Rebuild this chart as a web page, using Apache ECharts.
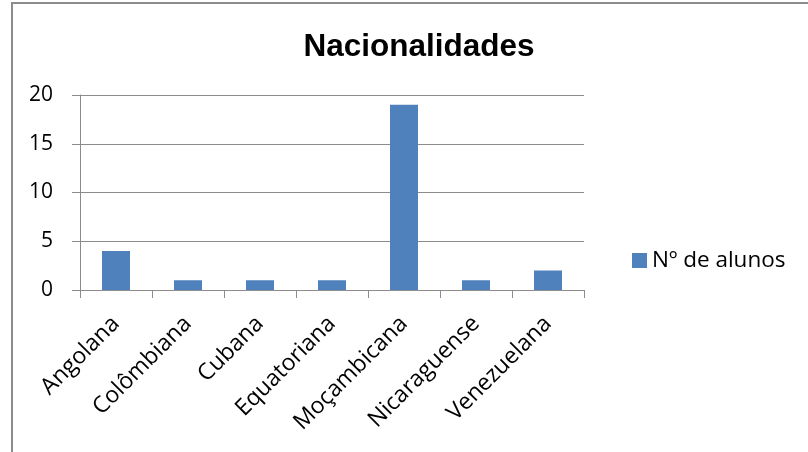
<!DOCTYPE html>
<html>
<head>
<meta charset="utf-8">
<script src="https://cdn.jsdelivr.net/npm/echarts@6/dist/echarts.min.js"></script>
<style>
  html, body { margin: 0; padding: 0; background: #fff; }
  #frame { position: absolute; left: 11px; top: 2px; width: 820px; height: 470px; border: 2px solid #8c8c8c; box-sizing: border-box; }
  #chart { position: absolute; left: 0; top: 0; width: 808px; height: 452px; }
</style>
</head>
<body>
<div id="frame"></div>
<div id="chart"></div>
<script>
var categories = ['Angolana', 'Colômbiana', 'Cubana', 'Equatoriana', 'Moçambicana', 'Nicaraguense', 'Venezuelana'];
var alunos = [4, 1, 1, 1, 19, 1, 2];
var yTicks = [0, 5, 10, 15, 20];
var seriesName = 'Nº de alunos';

var chart = echarts.init(document.getElementById('chart'));
var option = {
    animation: false,
    title: {
        text: 'Nacionalidades',
        left: 414,
        top: 26,
        textAlign: 'center',
        textStyle: {
            fontFamily: 'Liberation Sans',
            fontWeight: 'bold',
            fontSize: 31.5,
            color: '#000'
        }
    },
    legend: {
        data: [seriesName],
        left: 627,
        top: 244,
        itemWidth: 15,
        itemHeight: 15,
        itemGap: 6,
        icon: 'rect',
        textStyle: {
            fontFamily: 'Open Sans',
            fontSize: 22.5,
            color: '#000'
        }
    },
    grid: {
        left: 80,
        right: 224,
        top: 95,
        bottom: 162
    },
    xAxis: {
        type: 'category',
        data: categories,
        axisLine: { lineStyle: { color: '#8c8c8c', width: 1 } },
        axisTick: { show: true, length: 8, alignWithLabel: false, lineStyle: { color: '#8c8c8c' } },
        axisLabel: {
            rotate: 45,
            interval: 0,
            margin: 30,
            fontFamily: 'Open Sans',
            fontSize: 23,
            color: '#000'
        }
    },
    yAxis: {
        type: 'value',
        min: yTicks[0],
        max: yTicks[yTicks.length - 1],
        interval: 5,
        axisLine: { show: true, lineStyle: { color: '#8c8c8c', width: 1 } },
        axisTick: { show: true, length: 8, inside: false, lineStyle: { color: '#8c8c8c' } },
        splitLine: { lineStyle: { color: '#8c8c8c', width: 1 } },
        axisLabel: {
            margin: 27,
            fontFamily: 'Open Sans',
            fontSize: 21,
            color: '#000'
        }
    },
    series: [{
        name: seriesName,
        type: 'bar',
        data: alunos,
        barWidth: 28,
        itemStyle: { color: '#4f81bd' }
    }]
};
chart.setOption(option);
</script>
</body>
</html>
